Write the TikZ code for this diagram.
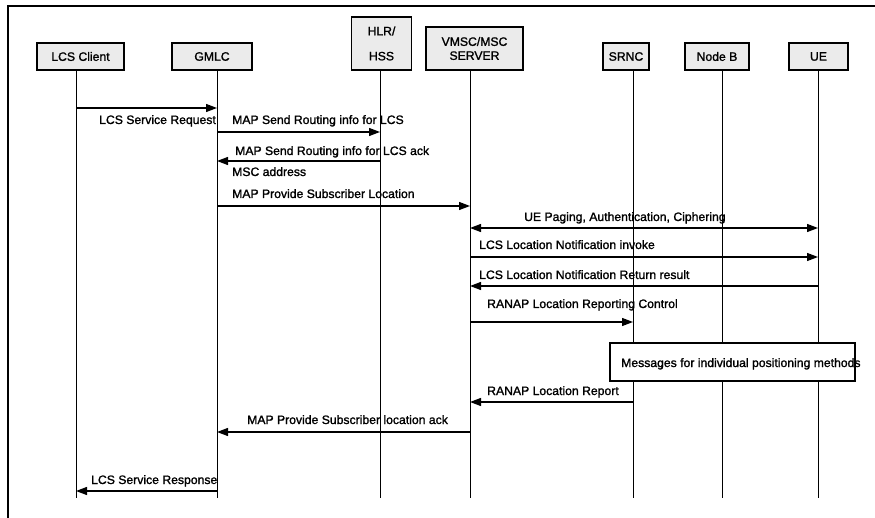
\documentclass[tikz,border=0pt]{standalone}
\usepackage{fontspec}
\setmainfont[FakeBold=1.4]{Liberation Sans}
\usetikzlibrary{arrows.meta}
\begin{document}
\begin{tikzpicture}[x=1pt,y=-1pt,
  every node/.style={font=\fontsize{12.2}{15}\selectfont},
  entity/.style={draw, line width=1.1pt, fill=gray!16, inner sep=0pt, align=center},
  lifeline/.style={line width=0.9pt},
  msg/.style={line width=1.3pt, -{Triangle[length=11pt,width=8pt]}},
  bimsg/.style={line width=1.3pt, {Triangle[length=11pt,width=8pt]}-{Triangle[length=11pt,width=8pt]}},
  lbl/.style={anchor=base west, inner sep=0pt},
  frame/.style={line width=1.3pt}]
\useasboundingbox (0,0) rectangle (875,518);

% outer frame (top and left edges)
\coordinate (ftl) at (8,6);
\coordinate (ftr) at (875,6);
\coordinate (fbl) at (8,518);
\draw[frame] (ftr) -- (ftl) -- (fbl);

% participants
\node[entity, minimum width=87pt, minimum height=27pt] (lcs)  at (80.5,56.5) {LCS Client};
\node[entity, minimum width=80pt, minimum height=27pt] (gmlc) at (212,56.5) {GMLC};
\node[entity, minimum width=60pt, minimum height=53pt] (hlr)  at (381.5,43.5) {HLR/\\[10pt]HSS};
\node[entity, minimum width=97pt, minimum height=43pt] (vmsc) at (474.5,48.5) {VMSC/MSC\\[-1pt]SERVER};
\node[entity, minimum width=46pt, minimum height=27pt] (srnc) at (626,56.5) {SRNC};
\node[entity, minimum width=64pt, minimum height=27pt] (nodeb) at (717,56.5) {Node B};
\node[entity, minimum width=59pt, minimum height=27pt] (ue)   at (818.5,56.5) {UE};

% lifeline x positions
\coordinate (xlcs)  at (76,0);
\coordinate (xgmlc) at (217,0);
\coordinate (xhlr)  at (380,0);
\coordinate (xvmsc) at (470,0);
\coordinate (xsrnc) at (633,0);
\coordinate (xnodeb) at (722,0);
\coordinate (xue)   at (818,0);
\coordinate (yend)  at (0,498);

\foreach \p/\n in {xlcs/lcs, xgmlc/gmlc, xhlr/hlr, xvmsc/vmsc, xsrnc/srnc, xnodeb/nodeb, xue/ue}
  \draw[lifeline] (\p |- \n.south) -- (\p |- yend);

% messages
\draw[msg] (xlcs |- 0,108) -- (xgmlc |- 0,108);
\node[lbl] (l1) at (99,124) {LCS Service Request};

\draw[msg] (xgmlc |- 0,132) -- (xhlr |- 0,132);
\node[lbl] (l2) at (232,124) {MAP Send Routing info for LCS};

\draw[msg] (xhlr |- 0,161) -- (xgmlc |- 0,161);
\node[lbl] (l3) at (235,155) {MAP Send Routing info for LCS ack};
\node[lbl] (l4) at (232,176) {MSC address};

\draw[msg] (xgmlc |- 0,206) -- (xvmsc |- 0,206);
\node[lbl] (l5) at (232,198) {MAP Provide Subscriber Location};

\draw[bimsg] (xvmsc |- 0,228) -- (xue |- 0,228);
\node[lbl] (l6) at (524,221) {UE Paging, Authentication, Ciphering};

\draw[msg] (xvmsc |- 0,257) -- (xue |- 0,257);
\node[lbl] (l7) at (479,249) {LCS Location Notification invoke};

\draw[msg] (xue |- 0,286) -- (xvmsc |- 0,286);
\node[lbl] (l8) at (479,279) {LCS Location Notification Return result};

\draw[msg] (xvmsc |- 0,322) -- (xsrnc |- 0,322);
\node[lbl] (l9) at (487,308) {RANAP Location Reporting Control};

% positioning methods box
\node[draw, line width=1.1pt, fill=white, minimum width=245pt, minimum height=38pt, inner sep=0pt] (pos) at (732.5,362) {};
\node[lbl] (l10) at (621,367) {Messages for individual positioning methods};

\draw[msg] (xsrnc |- 0,402) -- (xvmsc |- 0,402);
\node[lbl] (l11) at (487,395) {RANAP Location Report};

\draw[msg] (xvmsc |- 0,432) -- (xgmlc |- 0,432);
\node[lbl] (l12) at (247,424) {MAP Provide Subscriber location ack};

\draw[msg] (xgmlc |- 0,491) -- (xlcs |- 0,491);
\node[lbl] (l13) at (91,484) {LCS Service Response};
\end{tikzpicture}
\end{document}
